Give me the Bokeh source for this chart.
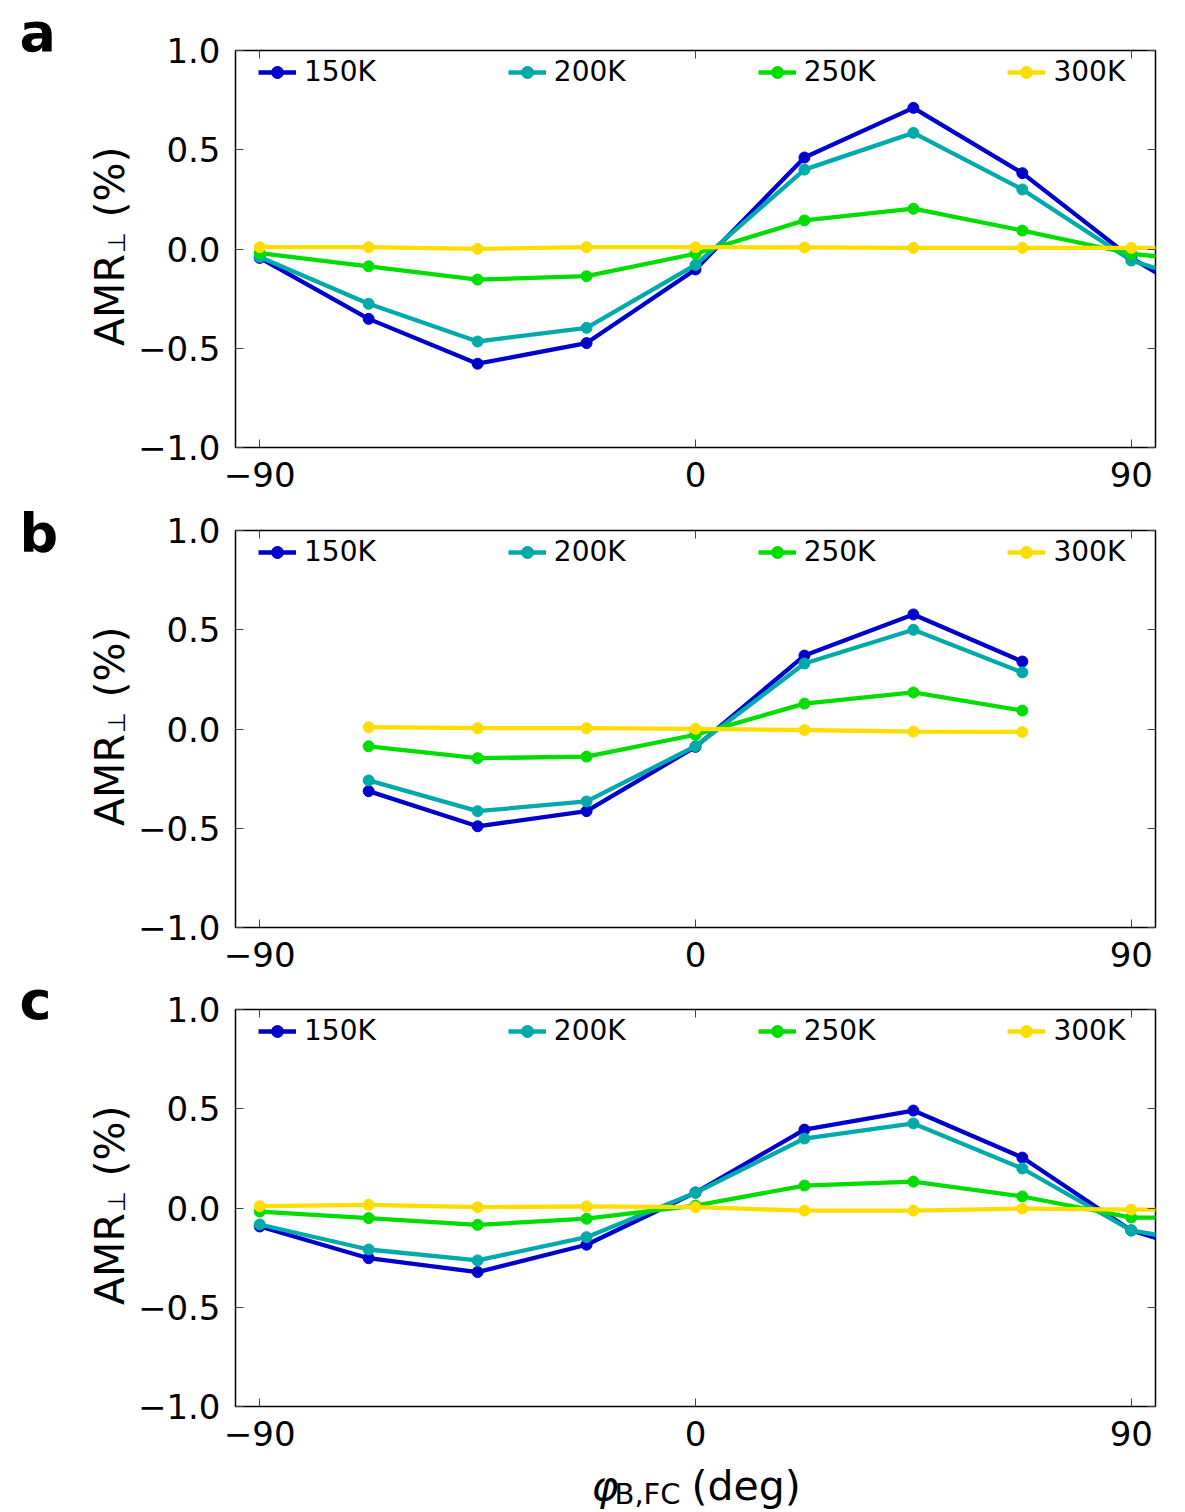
import math
from bokeh.plotting import figure
from bokeh.layouts import column, row
from bokeh.models import (Range1d, LinearAxis, FixedTicker, CustomJSTickFormatter,
                          Legend, LegendItem)
from bokeh.core.properties import value
from bokeh.embed import file_html
from bokeh.resources import INLINE

# ---------------- data ----------------
angle_full = [-90, -67.5, -45, -22.5, 0, 22.5, 45, 67.5, 90, 112.5]
angle_b = [-67.5, -45, -22.5, 0, 22.5, 45, 67.5]
temperatures = ["150K", "200K", "250K", "300K"]
colors = ["#0000CC", "#00AAAA", "#00DD00", "#FFDD00"]
x_ticks = [-90, 0, 90]
y_ticks = [-1.0, -0.5, 0.0, 0.5, 1.0]
panel_letters = ["a", "b", "c"]

a_150K = [-0.045, -0.352, -0.578, -0.474, -0.103, 0.461, 0.711, 0.382, -0.045, -0.37]
a_200K = [-0.040, -0.276, -0.466, -0.397, -0.080, 0.400, 0.585, 0.300, -0.058, -0.23]
a_250K = [-0.021, -0.087, -0.154, -0.137, -0.024, 0.144, 0.203, 0.093, -0.024, -0.08]
a_300K = [0.009, 0.009, 0.001, 0.009, 0.009, 0.008, 0.006, 0.006, 0.006, 0.006]

b_150K = [-0.313, -0.490, -0.414, -0.090, 0.370, 0.577, 0.340]
b_200K = [-0.259, -0.414, -0.365, -0.087, 0.330, 0.500, 0.285]
b_250K = [-0.087, -0.147, -0.139, -0.029, 0.128, 0.184, 0.093]
b_300K = [0.009, 0.004, 0.004, 0.001, -0.005, -0.013, -0.015]

c_150K = [-0.093, -0.253, -0.323, -0.185, 0.078, 0.395, 0.491, 0.254, -0.113, -0.28]
c_200K = [-0.083, -0.209, -0.264, -0.147, 0.077, 0.350, 0.426, 0.199, -0.113, -0.21]
c_250K = [-0.018, -0.051, -0.085, -0.054, 0.012, 0.113, 0.133, 0.058, -0.048, -0.05]
c_300K = [0.009, 0.016, 0.004, 0.008, 0.004, -0.013, -0.013, -0.003, -0.008, -0.008]

FONT = "DejaVu Sans"
TICK_COLOR = "#444444"
SIDE_W = 133
MAIN_BORDER_L = 102
MAIN_W = MAIN_BORDER_L + 920 + 15
FRAME_H = 397
TOTAL_H = 1512


def no_align(f):
    try:
        f.frame_align = False
    except Exception:
        pass


def mirror_axis(ticks):
    return LinearAxis(ticker=FixedTicker(ticks=ticks),
                      formatter=CustomJSTickFormatter(code="return '';"),
                      major_tick_in=8, major_tick_out=0,
                      minor_tick_in=0, minor_tick_out=0,
                      major_tick_line_color=TICK_COLOR,
                      axis_line_color=None,
                      major_label_text_font_size="1px",
                      major_label_standoff=0, axis_label_standoff=0)


def blank_fig(w, h):
    f = figure(width=w, height=h, x_range=Range1d(0, w), y_range=Range1d(h, 0),
               x_axis_type=None, y_axis_type=None,
               output_backend="svg", toolbar_location=None, min_border=0,
               outline_line_color=None, background_fill_color="white",
               border_fill_color="white")
    f.grid.visible = False
    no_align(f)
    return f


def main_panel(xs, series, top_b, bot_b):
    height = top_b + FRAME_H + bot_b
    p = figure(width=MAIN_W, height=height,
               x_range=Range1d(-95, 95), y_range=Range1d(-1, 1),
               output_backend="svg", toolbar_location=None,
               min_border_left=MAIN_BORDER_L, min_border_right=15,
               min_border_top=top_b, min_border_bottom=bot_b,
               background_fill_color="white", border_fill_color="white",
               outline_line_color="black", outline_line_width=1.5)
    p.xgrid.visible = False
    p.ygrid.visible = False

    xa = p.xaxis[0]
    xa.ticker = FixedTicker(ticks=x_ticks)
    xa.formatter = CustomJSTickFormatter(code="return tick.toFixed(0).replace('-', '\u2212');")
    ya = p.yaxis[0]
    ya.ticker = FixedTicker(ticks=y_ticks)
    ya.formatter = CustomJSTickFormatter(code="return tick.toFixed(1).replace('-', '\u2212');")
    for ax in (xa, ya):
        ax.major_tick_in = 8
        ax.major_tick_out = 0
        ax.minor_tick_in = 0
        ax.minor_tick_out = 0
        ax.major_tick_line_color = TICK_COLOR
        ax.axis_line_color = None
        ax.axis_label_standoff = 0
        ax.major_label_text_font = FONT
        ax.major_label_text_font_size = "34px"
        ax.major_label_text_color = "black"
    xa.major_label_standoff = 14
    ya.major_label_standoff = 15

    p.add_layout(mirror_axis(x_ticks), "above")
    p.add_layout(mirror_axis(y_ticks), "right")

    items = []
    for t, c, ys in zip(temperatures, colors, series):
        r1 = p.line(xs, ys, line_color=c, line_width=4.3)
        r2 = p.scatter(xs, ys, size=11, fill_color=c, line_color=c)
        items.append(LegendItem(label=t, renderers=[r1, r2]))

    legend = Legend(items=items, orientation="horizontal", location=(23, 359),
                    padding=0, margin=0, spacing=132,
                    glyph_width=38, glyph_height=30, label_height=30,
                    label_standoff=8,
                    label_text_font=FONT, label_text_font_size="28px",
                    label_text_color="black",
                    border_line_color=None, background_fill_alpha=0)
    p.add_layout(legend)
    return p


# panel a: canvas 0..501, frame 50..447
# panel b: canvas 501..981, frame 530..927
# panel c: canvas 981..1460, frame 1009..1406
borders = [(50, 54), (29, 54), (28, 54)]
frame_tops = [50, 530, 1009]
letter_baselines = [51, 552, 1019]
series_sets = [
    (angle_full, [a_150K, a_200K, a_250K, a_300K]),
    (angle_b, [b_150K, b_200K, b_250K, b_300K]),
    (angle_full, [c_150K, c_200K, c_250K, c_300K]),
]

mains = [main_panel(xs, ser, tb, bb) for (xs, ser), (tb, bb) in zip(series_sets, borders)]

# ---- left strip: y labels and panel letters (text centre-anchored) ----
side = blank_fig(SIDE_W, TOTAL_H)
for top, letter, lb in zip(frame_tops, panel_letters, letter_baselines):
    side.text(x=[109.3], y=[top + 249.5], text=["AMR"], angle=math.pi / 2,
              text_font=value(FONT), text_font_size="41px", text_color="black",
              text_align="center", text_baseline="middle")
    side.text(x=[116.2], y=[top + 192], text=["\u22a5"], angle=math.pi / 2,
              text_font=value(FONT), text_font_size="24px", text_color="black",
              text_align="center", text_baseline="middle")
    side.text(x=[109.3], y=[top + 131.5], text=["(%)"], angle=math.pi / 2,
              text_font=value(FONT), text_font_size="41px", text_color="black",
              text_align="center", text_baseline="middle")
    side.text(x=[19], y=[lb - 18.7], text=[letter],
              text_font=value(FONT), text_font_size="54px", text_font_style="bold",
              text_color="black", text_align="left", text_baseline="middle")

# ---- x-axis label strip (page y 1460..1512) ----
xl = blank_fig(MAIN_W, 52)
xl.text(x=[591 - SIDE_W], y=[25.8], text=["\u03c6"], text_font=value(FONT),
        text_font_size="41px", text_font_style="italic", text_color="black",
        text_align="left", text_baseline="middle")
xl.text(x=[614 - SIDE_W], y=[33], text=["B,FC"], text_font=value(FONT),
        text_font_size="29px", text_color="black",
        text_align="left", text_baseline="middle")
xl.text(x=[691 - SIDE_W], y=[25.8], text=["(deg)"], text_font=value(FONT),
        text_font_size="41px", text_color="black",
        text_align="left", text_baseline="middle")

layout = row(side, column(*mains, xl, spacing=0), spacing=0)
open("out.html", "w").write(file_html(layout, INLINE))
